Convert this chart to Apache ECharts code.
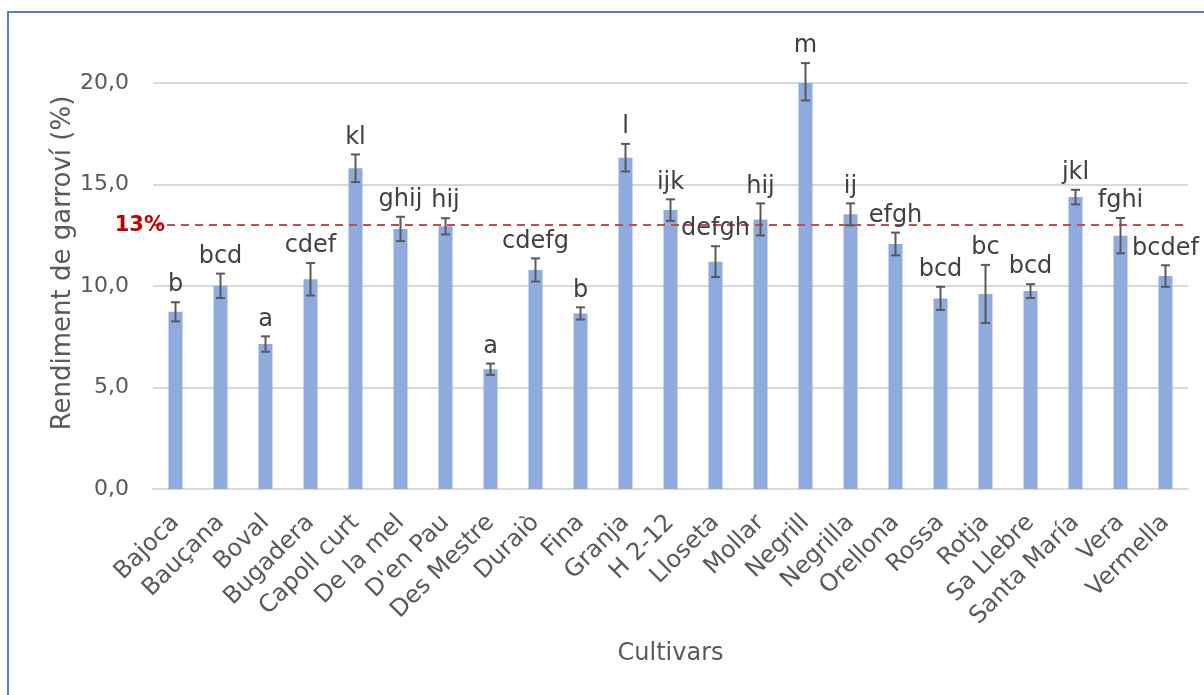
<!DOCTYPE html>
<html>
<head>
<meta charset="utf-8">
<script src="https://cdn.jsdelivr.net/npm/echarts@6/dist/echarts.min.js"></script>
<style>
  html, body { margin: 0; padding: 0; background: #ffffff; }
  #chart { width: 1204px; height: 695px; }
</style>
</head>
<body>
<div id="chart"></div>
<script>
// Carob seed yield per cultivar: mean, error and significance groups
const cultivars = [
  'Bajoca', 'Bauçana', 'Boval', 'Bugadera', 'Capoll curt', 'De la mel',
  "D'en Pau", 'Des Mestre', 'Duraiò', 'Fina', 'Granja', 'H 2-12',
  'Lloseta', 'Mollar', 'Negrill', 'Negrilla', 'Orellona', 'Rossa',
  'Rotja', 'Sa Llebre', 'Santa María', 'Vera', 'Vermella'
];
const yieldMean = [
  8.73, 10.01, 7.14, 10.33, 15.80, 12.81,
  12.94, 5.90, 10.79, 8.65, 16.32, 13.74,
  11.20, 13.28, 20.06, 13.53, 12.07, 9.39,
  9.61, 9.75, 14.38, 12.48, 10.49
];
const yieldErr = [
  0.47, 0.60, 0.38, 0.80, 0.68, 0.60,
  0.40, 0.28, 0.57, 0.30, 0.68, 0.53,
  0.76, 0.79, 0.92, 0.54, 0.56, 0.57,
  1.43, 0.34, 0.36, 0.87, 0.53
];
const groupLetters = [
  'b', 'bcd', 'a', 'cdef', 'kl', 'ghij',
  'hij', 'a', 'cdefg', 'b', 'l', 'ijk',
  'defgh', 'hij', 'm', 'ij', 'efgh', 'bcd',
  'bc', 'bcd', 'jkl', 'fghi', 'bcdef'
];
const threshold = 13;
const thresholdLabel = '13%';
const yAxisTitle = 'Rendiment de garroví (%)';
const xAxisTitle = 'Cultivars';

const FONT = '"DejaVu Sans", sans-serif';
const chart = echarts.init(document.getElementById('chart'), null, { renderer: 'canvas' });

const errData = cultivars.map((c, i) => [i, yieldMean[i], yieldErr[i]]);

// Error bar with caps, plus the significance letters above it
function renderErrorBar(params, api) {
  const i = api.value(0);
  const m = api.value(1);
  const e = api.value(2);
  const top = api.coord([i, m + e]);
  const bot = api.coord([i, m - e]);
  const half = 4.5;
  const ls = { stroke: '#595959', lineWidth: 2 };
  return {
    type: 'group',
    children: [
      { type: 'line', shape: { x1: top[0], y1: top[1], x2: bot[0], y2: bot[1] }, style: ls },
      { type: 'line', shape: { x1: top[0] - half, y1: top[1], x2: top[0] + half, y2: top[1] }, style: ls },
      { type: 'line', shape: { x1: bot[0] - half, y1: bot[1], x2: bot[0] + half, y2: bot[1] }, style: ls },
      {
        type: 'text', x: top[0], y: top[1] - 5,
        style: {
          text: groupLetters[params.dataIndex],
          align: 'center', verticalAlign: 'bottom',
          fontFamily: FONT, fontSize: 24, fill: '#404040'
        }
      }
    ]
  };
}

chart.setOption({
  animation: false,
  backgroundColor: '#ffffff',
  graphic: [
    {
      type: 'rect', z: 100,
      shape: { x: 8, y: 12, width: 1220, height: 720 },
      style: { fill: 'none', stroke: '#4f81bd', lineWidth: 2 }
    },
    {
      type: 'text', x: 63, y: 263, rotation: Math.PI / 2,
      style: {
        text: yAxisTitle, align: 'center', verticalAlign: 'middle',
        fontFamily: FONT, fontSize: 26, fill: '#595959'
      }
    }
  ],
  grid: { left: 153, right: 16, top: 83, bottom: 206 },
  xAxis: {
    type: 'category',
    data: cultivars,
    name: xAxisTitle,
    nameLocation: 'middle',
    nameGap: 153,
    nameTextStyle: { fontFamily: FONT, fontSize: 24, color: '#595959' },
    axisLine: { lineStyle: { color: '#d9d9d9', width: 2 } },
    axisTick: { show: false },
    axisLabel: {
      rotate: 45, margin: 30, interval: 0,
      fontFamily: FONT, fontSize: 24, color: '#595959'
    }
  },
  yAxis: {
    type: 'value',
    min: 0, max: 20, interval: 5,
    axisLine: { show: false },
    axisTick: { show: false },
    axisLabel: {
      margin: 24, fontFamily: FONT, fontSize: 22, color: '#595959',
      formatter: v => v.toFixed(1).replace('.', ',')
    },
    splitLine: { lineStyle: { color: '#d9d9d9', width: 2 } }
  },
  series: [
    {
      type: 'bar',
      data: yieldMean,
      barWidth: 14,
      itemStyle: { color: '#8faadc' },
      markLine: {
        silent: true,
        symbol: 'none',
        lineStyle: { color: '#c0504d', type: [8, 6], width: 2 },
        label: {
          position: 'start', distance: -12, formatter: thresholdLabel,
          fontFamily: FONT, fontSize: 21, fontWeight: 'bold', color: '#c00000'
        },
        data: [{ yAxis: threshold }]
      }
    },
    {
      type: 'custom',
      data: errData,
      renderItem: renderErrorBar,
      clip: false,
      z: 5
    }
  ]
});
</script>
</body>
</html>
